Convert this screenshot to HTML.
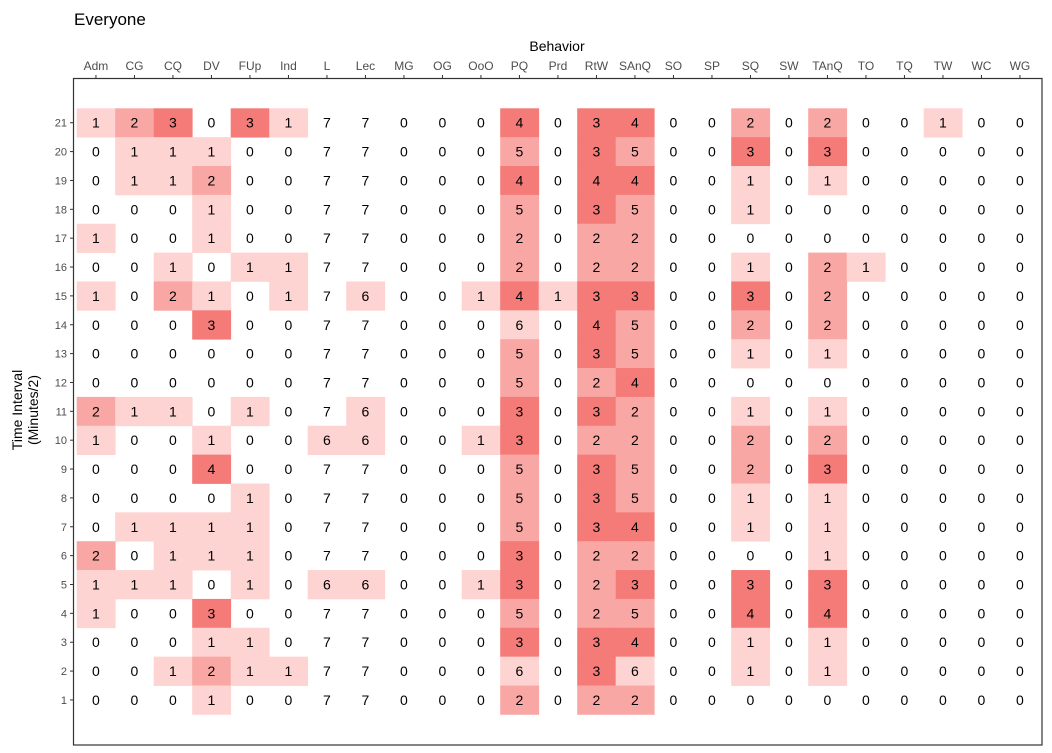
<!DOCTYPE html>
<html><head><meta charset="utf-8"><style>
body{margin:0;background:#fff;}
svg{display:block;font-family:"Liberation Sans",sans-serif;}
</style></head><body>
<svg id="s" width="1052" height="753" xmlns="http://www.w3.org/2000/svg">
<rect width="1052" height="753" fill="#fff"/>
<text x="74" y="25" font-size="17" fill="#000">Everyone</text>
<text x="557" y="51" font-size="14" text-anchor="middle" fill="#000">Behavior</text>
<text transform="translate(22,410) rotate(-90)" font-size="14" text-anchor="middle" fill="#000">Time Interval</text>
<text transform="translate(38,410) rotate(-90)" font-size="14" text-anchor="middle" fill="#000">(Minutes/2)</text>
<g id="cells"></g>
<rect x="73.5" y="78.5" width="968.5" height="666.5" fill="none" stroke="#333" stroke-width="1.2"/>
</svg>
<script>
var cols="Adm CG CQ DV FUp Ind L Lec MG OG OoO PQ Prd RtW SAnQ SO SP SQ SW TAnQ TO TQ TW WC WG".split(" ");
var rows=[
"1 2 3 0 3 1 7 7 0 0 0 4 0 3 4 0 0 2 0 2 0 0 1 0 0",
"0 1 1 1 0 0 7 7 0 0 0 5 0 3 5 0 0 3 0 3 0 0 0 0 0",
"0 1 1 2 0 0 7 7 0 0 0 4 0 4 4 0 0 1 0 1 0 0 0 0 0",
"0 0 0 1 0 0 7 7 0 0 0 5 0 3 5 0 0 1 0 0 0 0 0 0 0",
"1 0 0 1 0 0 7 7 0 0 0 2 0 2 2 0 0 0 0 0 0 0 0 0 0",
"0 0 1 0 1 1 7 7 0 0 0 2 0 2 2 0 0 1 0 2 1 0 0 0 0",
"1 0 2 1 0 1 7 6 0 0 1 4 1 3 3 0 0 3 0 2 0 0 0 0 0",
"0 0 0 3 0 0 7 7 0 0 0 6 0 4 5 0 0 2 0 2 0 0 0 0 0",
"0 0 0 0 0 0 7 7 0 0 0 5 0 3 5 0 0 1 0 1 0 0 0 0 0",
"0 0 0 0 0 0 7 7 0 0 0 5 0 2 4 0 0 0 0 0 0 0 0 0 0",
"2 1 1 0 1 0 7 6 0 0 0 3 0 3 2 0 0 1 0 1 0 0 0 0 0",
"1 0 0 1 0 0 6 6 0 0 1 3 0 2 2 0 0 2 0 2 0 0 0 0 0",
"0 0 0 4 0 0 7 7 0 0 0 5 0 3 5 0 0 2 0 3 0 0 0 0 0",
"0 0 0 0 1 0 7 7 0 0 0 5 0 3 5 0 0 1 0 1 0 0 0 0 0",
"0 1 1 1 1 0 7 7 0 0 0 5 0 3 4 0 0 1 0 1 0 0 0 0 0",
"2 0 1 1 1 0 7 7 0 0 0 3 0 2 2 0 0 0 0 1 0 0 0 0 0",
"1 1 1 0 1 0 6 6 0 0 1 3 0 2 3 0 0 3 0 3 0 0 0 0 0",
"1 0 0 3 0 0 7 7 0 0 0 5 0 2 5 0 0 4 0 4 0 0 0 0 0",
"0 0 0 1 1 0 7 7 0 0 0 3 0 3 4 0 0 1 0 1 0 0 0 0 0",
"0 0 1 2 1 1 7 7 0 0 0 6 0 3 6 0 0 1 0 1 0 0 0 0 0",
"0 0 0 1 0 0 7 7 0 0 0 2 0 2 2 0 0 0 0 0 0 0 0 0 0"];
var fills=["#fff","#fdd4d2","#f9a7a4","#f47b78"];
var x0=76.7,cw=38.5,y0=108.3,rh=28.86,h="";
cols.forEach(function(c,j){var cx=x0+cw*(j+0.5);
h+='<line x1="'+cx+'" y1="75" x2="'+cx+'" y2="78.5" stroke="#333"/>';
h+='<text x="'+cx+'" y="70" font-size="12" fill="#4d4d4d" text-anchor="middle">'+c+'</text>';});
rows.forEach(function(r,i){var v=r.split(" ").map(Number);var cy=y0+rh*(i+0.5);var lab=21-i;
h+='<line x1="70" y1="'+cy+'" x2="73.5" y2="'+cy+'" stroke="#333"/>';
h+='<text x="67" y="'+(cy+4)+'" font-size="11" fill="#4d4d4d" text-anchor="end">'+lab+'</text>';
v.forEach(function(n,j){var l=Math.min(n,7-n);var x=x0+cw*j;
if(l>0)h+='<rect x="'+x+'" y="'+(y0+rh*i)+'" width="'+(cw+0.4)+'" height="'+(rh+0.4)+'" fill="'+fills[l]+'"/>';});
v.forEach(function(n,j){h+='<text x="'+(x0+cw*(j+0.5))+'" y="'+(cy+5)+'" font-size="14" text-anchor="middle" fill="#000">'+n+'</text>';});});
document.getElementById("cells").innerHTML=h;
</script>
</body></html>
